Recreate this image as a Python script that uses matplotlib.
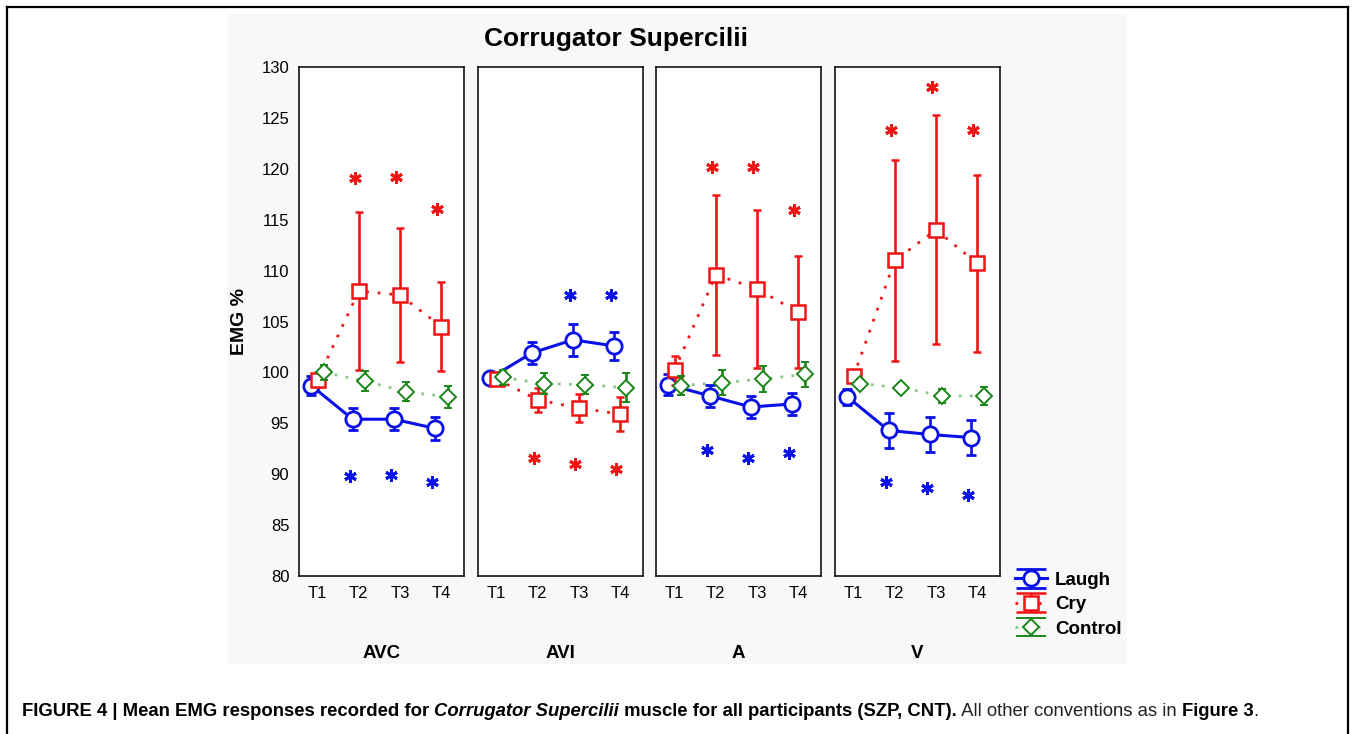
import matplotlib
matplotlib.use("Agg")
import matplotlib.pyplot as plt
from matplotlib.patches import Rectangle
from matplotlib.lines import Line2D
import numpy as np

plt.rcParams['font.family'] = ['Liberation Sans', 'DejaVu Sans']

times = ['T1', 'T2', 'T3', 'T4']
conditions = ['AVC', 'AVI', 'A', 'V']
series_names = ['Laugh', 'Cry', 'Control']

laugh_mean = {'AVC': [98.7, 95.4, 95.4, 94.5],
              'AVI': [99.45, 101.9, 103.2, 102.6],
              'A': [98.8, 97.7, 96.6, 96.9],
              'V': [97.6, 94.3, 93.9, 93.6]}
laugh_err = {'AVC': [0.9, 1.1, 1.1, 1.15],
             'AVI': [0.5, 1.1, 1.6, 1.4],
             'A': [1.0, 1.1, 1.1, 1.05],
             'V': [0.8, 1.7, 1.75, 1.75]}

cry_mean = {'AVC': [99.3, 108.0, 107.6, 104.5],
            'AVI': [99.35, 97.3, 96.5, 95.9],
            'A': [100.2, 109.6, 108.2, 105.9],
            'V': [99.6, 111.0, 114.0, 110.7]}
cry_err = {'AVC': [0.7, 7.8, 6.6, 4.4],
           'AVI': [0.5, 1.2, 1.35, 1.7],
           'A': [1.4, 7.85, 7.8, 5.5],
           'V': [0.6, 9.9, 11.25, 8.65]}

control_mean = {'AVC': [100.0, 99.15, 98.1, 97.6],
                'AVI': [99.5, 98.9, 98.8, 98.5],
                'A': [98.7, 99.0, 99.35, 99.8],
                'V': [98.9, 98.5, 97.7, 97.7]}
control_err = {'AVC': [0.7, 0.95, 0.95, 1.05],
               'AVI': [0.7, 1.0, 0.95, 1.45],
               'A': [0.9, 1.2, 1.3, 1.25],
               'V': [0.5, 0.5, 0.7, 0.9]}

# significance asterisks (y position, None = no star)
red_star_y = {'AVC': [None, 119.1, 119.2, 116.05],
              'AVI': [None, 91.6, 91.0, 90.5],
              'A': [None, 120.2, 120.2, 116.0],
              'V': [None, 123.8, 128.0, 123.8]}
blue_star_y = {'AVC': [None, 89.8, 89.9, 89.2],
               'AVI': [None, None, 107.6, 107.6],
               'A': [None, 92.4, 91.6, 92.1],
               'V': [None, 89.2, 88.6, 88.0]}

BLUE = '#0a10e8'
RED = '#f01414'
GREEN = '#1a861a'
LIGHT_GREEN = '#86c886'

W, H = 1356, 734
fig = plt.figure(figsize=(W / 100, H / 100), dpi=100)

# faint background panel and outer frame
fig.patches.append(Rectangle((228 / W, 1 - 664 / H), (1127 - 228) / W, (664 - 14) / H,
                             transform=fig.transFigure, facecolor='#f8f8f8', edgecolor='none', zorder=-5))
for xs, ys in [([7, 7], [7, H]), ([7, 1348], [7, 7]), ([1348, 1348], [7, H])]:
    fig.add_artist(Line2D([x / W for x in xs], [1 - y / H for y in ys], color='black', lw=1.6,
                          transform=fig.transFigure))

lefts = [299, 478, 656, 835]
pw = 165
x = np.arange(1, 5)
star = (6, 2, 0)

for i, cond in enumerate(conditions):
    ax = fig.add_axes([lefts[i] / W, 1 - 576 / H, pw / W, (576 - 67) / H])
    ax.set_facecolor('white')

    ax.errorbar(x - 0.15, laugh_mean[cond], yerr=laugh_err[cond], color=BLUE, lw=2.2,
                elinewidth=1.9, capsize=3.3, capthick=2, marker='o', ms=11,
                mfc='white', mec=BLUE, mew=2, zorder=3)
    cry = ax.errorbar(x, cry_mean[cond], yerr=cry_err[cond], color=RED, ls=(0, (1, 3.2)), lw=2,
                      elinewidth=1.9, capsize=3.0, capthick=2, marker='s', ms=10,
                      mfc='white', mec=RED, mew=1.8, zorder=4)
    cry[2][0].set_linestyle('-')
    ax.errorbar(x + 0.15, control_mean[cond], yerr=control_err[cond], color=GREEN, lw=0,
                elinewidth=1.9, capsize=3.0, capthick=2, marker='D', ms=8,
                mfc='white', mec=GREEN, mew=1.4, zorder=5)
    ax.plot(x + 0.15, control_mean[cond], color=LIGHT_GREEN, ls=(0, (1, 3)), lw=2, zorder=2)

    for j in range(4):
        if red_star_y[cond][j] is not None:
            ax.plot(x[j] - 0.1, red_star_y[cond][j], marker=star, ms=9, mew=2.1,
                    color=RED, ls='none')
        if blue_star_y[cond][j] is not None:
            ax.plot(x[j] - 0.22, blue_star_y[cond][j], marker=star, ms=9, mew=2.1,
                    color=BLUE, ls='none')

    ax.set_xlim(0.55, 4.55)
    ax.set_ylim(80, 130)
    ax.set_xticks(x)
    ax.set_xticklabels(times, fontsize=12)
    ax.set_yticks(np.arange(80, 131, 5))
    if i == 0:
        ax.set_yticklabels([str(v) for v in range(80, 131, 5)], fontsize=12)
    else:
        ax.set_yticklabels([])
    ax.tick_params(length=0, pad=7)
    for s in ax.spines.values():
        s.set_linewidth(1.1)

    fig.text((lefts[i] + pw / 2) / W, 1 - 653 / H, cond, ha='center', va='center',
             fontsize=13.5, fontweight='bold')

fig.text(616 / W, 1 - 39 / H, 'Corrugator Supercilii', ha='center', va='center',
         fontsize=19, fontweight='bold')
fig.text(240 / W, 1 - 322 / H, 'EMG %', rotation=90, ha='center', va='center',
         fontsize=14, fontweight='bold')

# legend proxies with wide caps, drawn on a hidden axes
lax = fig.add_axes([0, 0, 0.01, 0.01])
lax.set_visible(False)
p1 = lax.errorbar([0], [0], yerr=[1], color=BLUE, lw=2.2, elinewidth=1.9, capsize=11, capthick=2,
                  marker='o', ms=11, mfc='white', mec=BLUE, mew=2)
p2 = lax.errorbar([0], [0], yerr=[1], color=RED, ls=(0, (1, 3.2)), lw=2, elinewidth=1.9, capsize=11,
                  capthick=2, marker='s', ms=10, mfc='white', mec=RED, mew=1.8)
p3 = lax.errorbar([0], [0], yerr=[1], color=LIGHT_GREEN, ls=(0, (1, 3)), lw=2, elinewidth=1.9,
                  ecolor=GREEN, capsize=11, capthick=2, marker='D', ms=8, mfc='white',
                  mec=GREEN, mew=1.4)
fig.legend([p1, p2, p3], series_names, loc='upper left', bbox_to_anchor=(998 / W, 1 - 555 / H),
           frameon=False, handlelength=1.7, handletextpad=0.45, labelspacing=0.38,
           prop={'weight': 'bold', 'size': 13.5})

# caption with mixed styles
parts = [("FIGURE 4 | Mean EMG responses recorded for ", 'bold', 'normal', 'black'),
         ("Corrugator Supercilii", 'bold', 'italic', 'black'),
         (" muscle for all participants (SZP, CNT).", 'bold', 'normal', 'black'),
         (" All other conventions as in ", 'normal', 'normal', '#222222'),
         ("Figure 3", 'bold', 'normal', 'black'),
         (".", 'normal', 'normal', '#222222')]
renderer = fig.canvas.get_renderer()
cx = 22 / W
for txt, wt, st, col in parts:
    t = fig.text(cx, 1 - 711 / H, txt, fontsize=13.35, fontweight=wt, fontstyle=st, color=col,
                 va='center', ha='left')
    bb = t.get_window_extent(renderer)
    cx = bb.x1 / W

fig.savefig('out.png', dpi=100)
